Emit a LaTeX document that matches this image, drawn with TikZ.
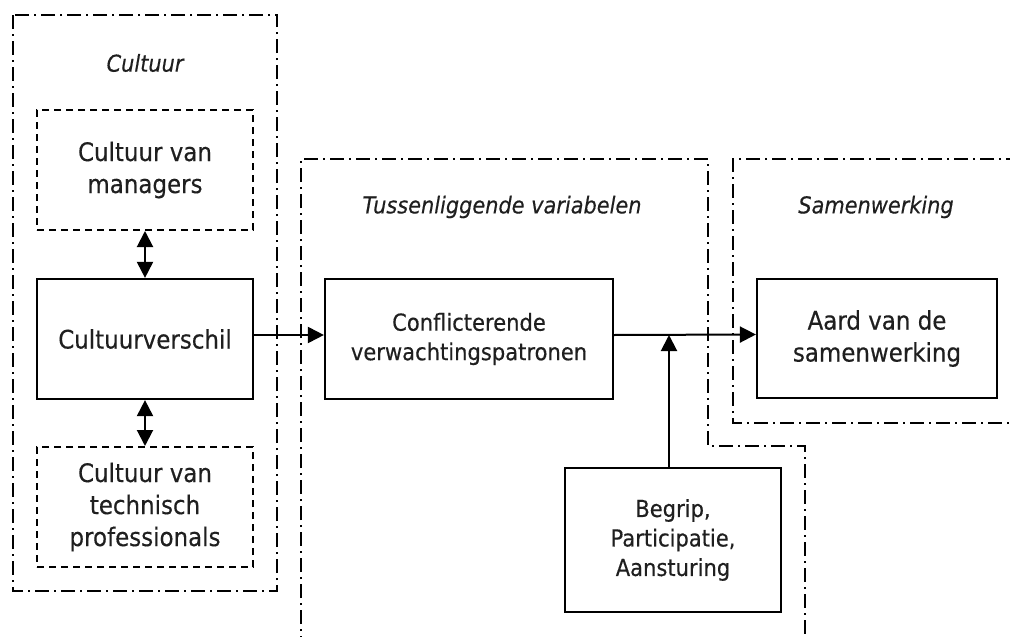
\documentclass[tikz,border=0pt]{standalone}
\usepackage{fontspec}
\setmainfont{DejaVu Sans}[FakeStretch=0.9, FakeBold=0.35]
\usetikzlibrary{arrows.meta}

\begin{document}
\begin{tikzpicture}[x=1pt, y=-1pt,
  solidbox/.style={draw, line width=2.2pt, align=center, inner sep=0pt,
    text=black!88, font=\fontsize{25.5}{32}\selectfont},
  smallbox/.style={solidbox, font=\fontsize{23.4}{29.5}\selectfont},
  dashbox/.style={solidbox, line width=2pt, dash pattern=on 7pt off 5pt},
  region/.style={line width=2pt, dash pattern=on 14pt off 5pt on 2pt off 5pt},
  regionlabel/.style={font=\fontsize{23.2}{26}\selectfont\itshape, text=black!88, inner sep=0pt},
  tip/.tip={Triangle[length=16pt, width=16pt]},
  arr/.style={line width=2pt, -tip},
  dbl/.style={line width=2pt, tip-tip}
]
\useasboundingbox (0,0) rectangle (1010,637);
\clip (0,0) rectangle (1010,637);

% grouping frames
\draw[region] (13,15) rectangle (277,591);
\draw[region] (301,650) -- (301,159) -- (708,159) -- (708,446) -- (805,446) -- (805,650);
\draw[region] (1020,159) -- (733,159) -- (733,423) -- (1020,423);

% frame titles
\node[regionlabel] (tcult) at (145,63) {Cultuur};
\node[regionlabel] (ttuss) at (502,207) {Tussenliggende variabelen};
\node[regionlabel] (tsam) at (876,207) {Samenwerking};

% culture boxes
\node[dashbox, minimum width=216pt, minimum height=120pt] (mgr) at (145,170) {Cultuur van\\managers};
\node[solidbox, minimum width=216pt, minimum height=120pt] (cv) at (145,339) {Cultuurverschil};
\node[dashbox, minimum width=216pt, minimum height=120pt] (tech) at (145,507) {Cultuur van\\technisch\\professionals};

% intermediate and outcome boxes
\node[smallbox, minimum width=288pt, minimum height=120pt] (conf) at (469,339) {Conflicterende\\verwachtingspatronen};
\node[solidbox, minimum width=240pt, minimum height=119pt] (aard) at (877,338.5) {Aard van de\\samenwerking};
\node[smallbox, minimum width=216pt, minimum height=144pt] (begrip) at (673,540) {Begrip,\\Participatie,\\Aansturing};

% connectors
\draw[dbl] (mgr.south) -- (cv.north);
\draw[dbl] (tech.north) -- (cv.south);
\draw[arr] ([yshift=4pt]cv.east) -- ([yshift=4pt]conf.west);
\draw[arr] ([yshift=4pt]conf.east) -- ([yshift=4pt]aard.west);
\coordinate (join) at (669,335);
\draw[arr] (begrip.north -| join) -- (join);
\end{tikzpicture}
\end{document}
